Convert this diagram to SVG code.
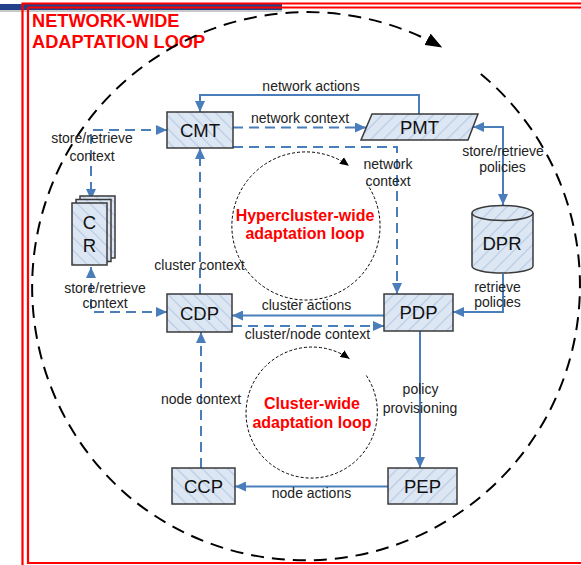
<svg xmlns="http://www.w3.org/2000/svg" width="581" height="565" viewBox="0 0 581 565">
  <style>
    .node { stroke: #3a3a3a; stroke-width: 1.5; }
    .nl { font-family: "Liberation Sans", Arial, sans-serif; font-size: 18.5px; fill: #111; text-anchor: middle; }
    .lbl { font-family: "Liberation Sans", Arial, sans-serif; font-size: 14px; fill: #222; text-anchor: middle; }
    .loop { font-family: "Liberation Sans", Arial, sans-serif; font-size: 16px; font-weight: bold; fill: #ff0000; text-anchor: middle; }
    .title { font-family: "Liberation Sans", Arial, sans-serif; font-size: 18.2px; font-weight: bold; fill: #ff0000; }
    .solid { fill: none; stroke: #4a7ebb; stroke-width: 2; }
    .dash { fill: none; stroke: #4a7ebb; stroke-width: 2; stroke-dasharray: 10 6; }
    .frame { fill: none; stroke: #ff0000; stroke-width: 2.2; }
  </style>
  <defs>
    <pattern id="hatchL" width="9" height="9" patternUnits="userSpaceOnUse" patternTransform="rotate(-45)">
      <rect width="9" height="9" fill="#dde7f3"/>
      <line x1="0" y1="0" x2="0" y2="9" stroke="#b7cbe4" stroke-width="2.4"/>
    </pattern>
    <pattern id="hatchR" width="9" height="9" patternUnits="userSpaceOnUse" patternTransform="rotate(45)">
      <rect width="9" height="9" fill="#dde7f3"/>
      <line x1="0" y1="0" x2="0" y2="9" stroke="#b7cbe4" stroke-width="2.4"/>
    </pattern>
    <marker id="ab" markerUnits="userSpaceOnUse" markerWidth="11" markerHeight="10" refX="11" refY="5" orient="auto-start-reverse">
      <path d="M0,0 L11,5 L0,10 z" fill="#4a7ebb"/>
    </marker>
    <marker id="big" markerUnits="userSpaceOnUse" markerWidth="17" markerHeight="13" refX="16" refY="6.5" orient="auto">
      <path d="M0,0 L17,6.5 L0,13 z" fill="#000"/>
    </marker>
    <marker id="small" markerUnits="userSpaceOnUse" markerWidth="9" markerHeight="8" refX="9" refY="4" orient="auto">
      <path d="M0,0 L9,4 L0,8 z" fill="#000"/>
    </marker>
  </defs>

  <!-- header strip and frame -->
  <rect x="0" y="4" width="282" height="6" fill="#23408a"/>
  <rect x="0" y="10" width="282" height="2" fill="#c8c8c8"/>
  <path class="frame" d="M22.5,566 V3.5 H582"/>
  <path class="frame" d="M28,7.5 H582 M28,7.5 V563 H582" stroke-width="2.6"/>

  <text class="title" x="32" y="27">NETWORK-WIDE</text>
  <text class="title" x="32" y="48">ADAPTATION LOOP</text>

  <!-- adaptation loops (each arc split in two halves so the centre stays fixed) -->
  <g id="loops">
    <path d="M480.8,73.9 A275,275 0 0 1 133.2,500.1 A275,275 0 0 1 441.4,47.1" fill="none" stroke="#000" stroke-width="2" stroke-dasharray="13 8" marker-end="url(#big)"/>
    <path d="M366.5,183.3 A74,74 0 0 1 245.5,268.7 A74,74 0 0 1 348.9,165.7" fill="none" stroke="#000" stroke-width="1" stroke-dasharray="3 2" marker-end="url(#small)"/>
    <path d="M366.3,375.5 A66,66 0 0 1 257.7,450.5 A66,66 0 0 1 349.5,358.7" fill="none" stroke="#000" stroke-width="1" stroke-dasharray="3 2" marker-end="url(#small)"/>
    <text class="loop" x="305" y="221">Hypercluster-wide</text>
    <text class="loop" x="305" y="239">adaptation loop</text>
    <text class="loop" x="312" y="409">Cluster-wide</text>
    <text class="loop" x="312" y="428">adaptation loop</text>
  </g>

  <!-- connectors -->
  <g id="connectors">
    <path class="solid" d="M419,114 V95 H200 V112" marker-end="url(#ab)"/>
    <path class="dash" d="M233,127.5 H366" marker-end="url(#ab)"/>
    <path class="dash" d="M233,147 H397 V294" marker-end="url(#ab)"/>
    <path class="dash" d="M167,130 H91 V200" marker-start="url(#ab)" marker-end="url(#ab)"/>
    <path class="dash" d="M91,267 V312 H167" marker-start="url(#ab)" marker-end="url(#ab)"/>
    <path class="dash" d="M200,294 V148" marker-end="url(#ab)"/>
    <path class="solid" d="M384,315.5 H232" marker-end="url(#ab)"/>
    <path class="dash" d="M232,326 H384" marker-end="url(#ab)"/>
    <path class="dash" d="M201,468 V332" marker-end="url(#ab)"/>
    <path class="solid" d="M420,331 V468" marker-end="url(#ab)"/>
    <path class="solid" d="M388,486.5 H235" marker-end="url(#ab)"/>
    <path class="solid" d="M473,127 H503 V205" marker-start="url(#ab)" marker-end="url(#ab)"/>
    <path class="solid" d="M503,274 V312 H453" marker-end="url(#ab)"/>

    <text class="lbl" x="311" y="91">network actions</text>
    <text class="lbl" x="300" y="123">network context</text>
    <text class="lbl" x="388" y="169">network</text>
    <text class="lbl" x="388" y="186">context</text>
    <text class="lbl" x="92" y="143">store/retrieve</text>
    <text class="lbl" x="92" y="161">context</text>
    <text class="lbl" x="105" y="293">store/retrieve</text>
    <text class="lbl" x="105" y="308">context</text>
    <text class="lbl" x="199.5" y="270">cluster context</text>
    <text class="lbl" x="306.5" y="310">cluster actions</text>
    <text class="lbl" x="307.5" y="339">cluster/node context</text>
    <text class="lbl" x="201" y="404">node context</text>
    <text class="lbl" x="420.5" y="394">policy</text>
    <text class="lbl" x="420" y="413">provisioning</text>
    <text class="lbl" x="311.5" y="498">node actions</text>
    <text class="lbl" x="503" y="156">store/retrieve</text>
    <text class="lbl" x="502.5" y="172">policies</text>
    <text class="lbl" x="497.5" y="292">retrieve</text>
    <text class="lbl" x="497.5" y="307">policies</text>
  </g>

  <!-- nodes -->
  <g id="CMT">
    <rect class="node" x="167" y="112" width="66" height="36" fill="url(#hatchL)"/>
    <text class="nl" x="200" y="136.5">CMT</text>
  </g>
  <g id="PMT">
    <polygon class="node" points="372,114 478,114 468,140 361,140" fill="url(#hatchR)"/>
    <text class="nl" x="419.5" y="133.5">PMT</text>
  </g>
  <g id="CR">
    <rect class="node" x="80" y="196" width="35" height="62" fill="url(#hatchL)" stroke-width="1"/>
    <rect class="node" x="76" y="199.5" width="35" height="62" fill="url(#hatchL)" stroke-width="1"/>
    <rect class="node" x="72" y="203" width="35" height="62" fill="url(#hatchL)"/>
    <text class="nl" x="89.5" y="229">C</text>
    <text class="nl" x="89.5" y="252">R</text>
  </g>
  <g id="DPR">
    <path class="node" d="M472,213 V266 A30.5,7 0 0 0 533,266 V213 A30.5,7.5 0 0 0 472,213 Z" fill="url(#hatchR)"/>
    <path class="node" d="M472,213 A30.5,7.5 0 0 0 533,213" fill="none"/>
    <text class="nl" x="502" y="249.5">DPR</text>
  </g>
  <g id="CDP">
    <rect class="node" x="167" y="294" width="65" height="38" fill="url(#hatchL)"/>
    <text class="nl" x="199.5" y="319.5">CDP</text>
  </g>
  <g id="PDP">
    <rect class="node" x="384" y="294" width="69" height="37" fill="url(#hatchR)"/>
    <text class="nl" x="418.5" y="319">PDP</text>
  </g>
  <g id="CCP">
    <rect class="node" x="172" y="468" width="63" height="36" fill="url(#hatchL)"/>
    <text class="nl" x="203.5" y="492.5">CCP</text>
  </g>
  <g id="PEP">
    <rect class="node" x="388" y="468" width="69" height="36" fill="url(#hatchR)"/>
    <text class="nl" x="422.5" y="492.5">PEP</text>
  </g>
</svg>
